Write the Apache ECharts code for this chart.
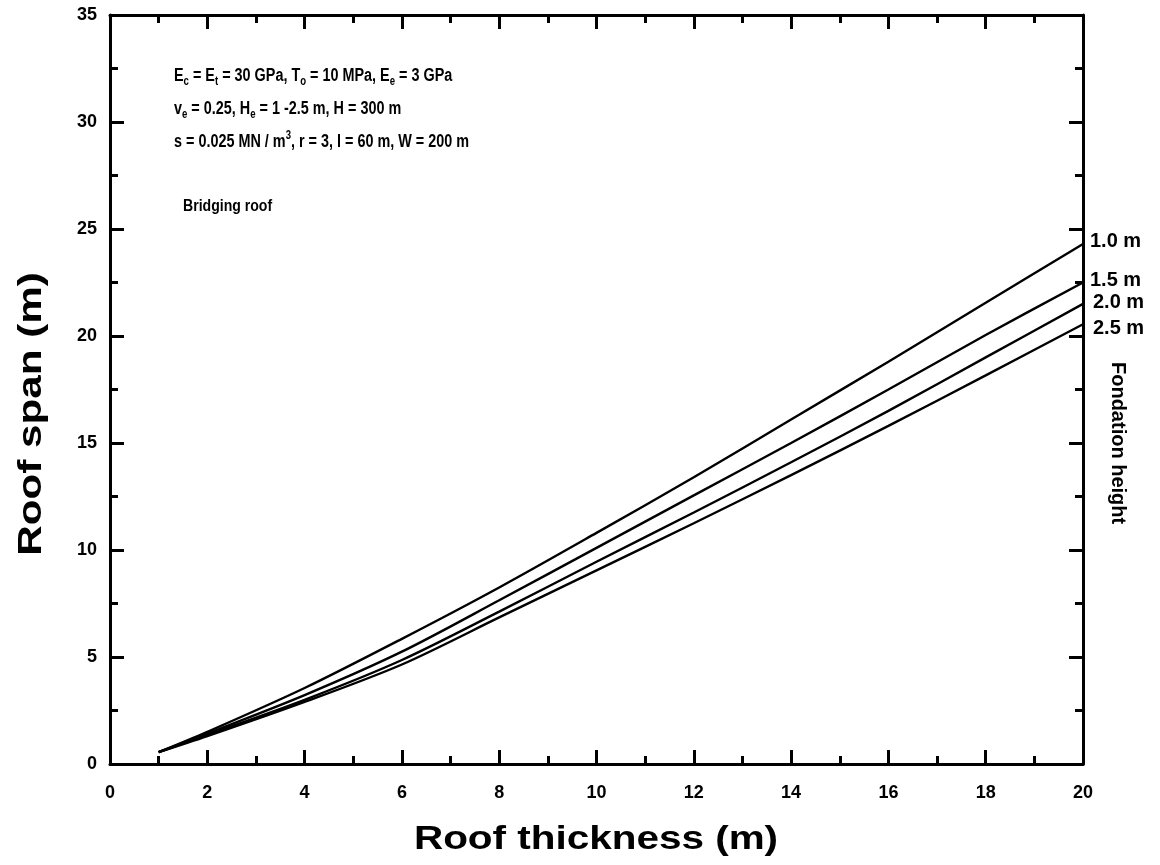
<!DOCTYPE html>
<html>
<head>
<meta charset="utf-8">
<script src="https://cdn.jsdelivr.net/npm/echarts@6/dist/echarts.min.js"></script>
<style>
html,body{margin:0;padding:0;background:#fff;}
#chart{width:1160px;height:865px;}
</style>
</head>
<body>
<div id="chart"></div>
<script>
// Roof thickness (m)
const thickness = [1, 2, 4, 6, 8, 10, 12, 14, 16, 18, 20];
// Roof span (m) for each foundation height
const span_1_0 = [0.55, 1.50, 3.55, 5.85, 8.25, 10.80, 13.40, 16.10, 18.80, 21.55, 24.30];
const span_1_5 = [0.55, 1.42, 3.22, 5.25, 7.65, 10.10, 12.55, 15.00, 17.50, 20.05, 22.50];
const span_2_0 = [0.55, 1.36, 3.00, 4.86, 7.12, 9.45, 11.75, 14.10, 16.50, 19.00, 21.50];
const span_2_5 = [0.55, 1.30, 2.90, 4.65, 6.85, 9.05, 11.25, 13.50, 15.80, 18.16, 20.55];
const seriesNames = ['1.0 m', '1.5 m', '2.0 m', '2.5 m'];
const xTicks = [0, 2, 4, 6, 8, 10, 12, 14, 16, 18, 20];
const yTicks = [0, 5, 10, 15, 20, 25, 30, 35];

const allSpans = [span_1_0, span_1_5, span_2_0, span_2_5];
const FONT = '"Liberation Sans", Arial, sans-serif';

const chart = echarts.init(document.getElementById('chart'), null, {renderer: 'canvas'});

function pairs(ys) { return thickness.map((x, i) => [x, ys[i]]); }

const axisLine = {show: true, onZero: false, lineStyle: {color: '#000', width: 3}};
const axisTickIn = {show: true, inside: true, length: 14, lineStyle: {color: '#000', width: 3}};
const minorTickIn = {show: true, splitNumber: 2, length: 8, lineStyle: {color: '#000', width: 3}};
const tickLabel = {color: '#000', fontSize: 18, fontWeight: 'bold', fontFamily: FONT};

const option = {
  backgroundColor: '#fff',
  animation: false,
  grid: {left: 110, right: 77, top: 15, bottom: 101, containLabel: false, outerBoundsMode: 'none'},
  xAxis: [
    {type: 'value', min: 0, max: 20, interval: 2, position: 'bottom',
     axisLine: axisLine, axisTick: axisTickIn, minorTick: minorTickIn,
     splitLine: {show: false}, minorSplitLine: {show: false},
     axisLabel: Object.assign({margin: 20, formatter: v => xTicks.includes(v) ? String(v) : ''}, tickLabel)},
    {type: 'value', min: 0, max: 20, interval: 2, position: 'top',
     axisLine: axisLine, axisTick: axisTickIn, minorTick: minorTickIn,
     splitLine: {show: false}, axisLabel: {show: false}}
  ],
  yAxis: [
    {type: 'value', min: 0, max: 35, interval: 5, position: 'left',
     axisLine: axisLine, axisTick: axisTickIn, minorTick: minorTickIn,
     splitLine: {show: false}, minorSplitLine: {show: false},
     axisLabel: Object.assign({margin: 13, formatter: v => yTicks.includes(v) ? String(v) : ''}, tickLabel)},
    {type: 'value', min: 0, max: 35, interval: 5, position: 'right',
     axisLine: axisLine, axisTick: axisTickIn, minorTick: minorTickIn,
     splitLine: {show: false}, axisLabel: {show: false}}
  ],
  series: allSpans.map((ys, i) => ({
    name: seriesNames[i], type: 'line', xAxisIndex: 0, yAxisIndex: 0,
    data: pairs(ys), showSymbol: false, smooth: 0.3,
    lineStyle: {color: '#000', width: 2.4}
  }))
};
chart.setOption(option);

// Annotation texts (rich text for sub/superscripts)
const rich = {
  n: {fontSize: 18, fontWeight: 'bold', fontFamily: FONT, color: '#000'},
  s: {fontSize: 12, fontWeight: 'bold', fontFamily: FONT, color: '#000', padding: [12, 0, 0, 0]},
  p: {fontSize: 12, fontWeight: 'bold', fontFamily: FONT, color: '#000', padding: [0, 0, 12, 0]}
};
function note(x, y, text, sx) {
  return {type: 'text', x: x, y: y, scaleX: sx, z: 100,
    style: {text: text, rich: rich, fill: '#000', font: 'bold 18px ' + FONT, align: 'left', verticalAlign: 'middle'}};
}
function label(x, y, text, size, sx, rot) {
  return {type: 'text', x: x, y: y, scaleX: sx, rotation: rot || 0, z: 100,
    style: {text: text, fill: '#000', font: 'bold ' + size + 'px ' + FONT, align: 'left', verticalAlign: 'middle'}};
}
const graphics = [
  note(174, 76, '{n|E}{s|c}{n| = E}{s|t}{n| = 30 GPa, T}{s|o}{n| = 10 MPa, E}{s|e}{n| = 3 GPa}', 0.8),
  note(174, 109, '{n|v}{s|e}{n| = 0.25, H}{s|e}{n| = 1 -2.5 m, H = 300 m}', 0.8),
  note(174, 142, '{n|s = 0.025 MN / m}{p|3}{n|, r = 3, l = 60 m, W = 200 m}', 0.8),
  label(183, 207, 'Bridging roof', 16, 0.88),
  label(1090, 241, '1.0 m', 20, 1.0),
  label(1090, 280, '1.5 m', 20, 1.0),
  label(1093, 302, '2.0 m', 20, 1.0),
  label(1093, 328, '2.5 m', 20, 1.0),
  label(1118, 362, 'Fondation height', 20, 1.0, -Math.PI / 2),
  {type: 'text', x: 596, y: 840, scaleX: 1.19, z: 100,
   style: {text: 'Roof thickness (m)', fill: '#000', font: 'bold 34px ' + FONT, align: 'center', verticalAlign: 'middle'}},
  {type: 'text', x: 32, y: 414, scaleX: 1.24, rotation: Math.PI / 2, z: 100,
   style: {text: 'Roof span (m)', fill: '#000', font: 'bold 34px ' + FONT, align: 'center', verticalAlign: 'middle'}}
];
chart.setOption({graphic: graphics});
</script>
</body>
</html>
